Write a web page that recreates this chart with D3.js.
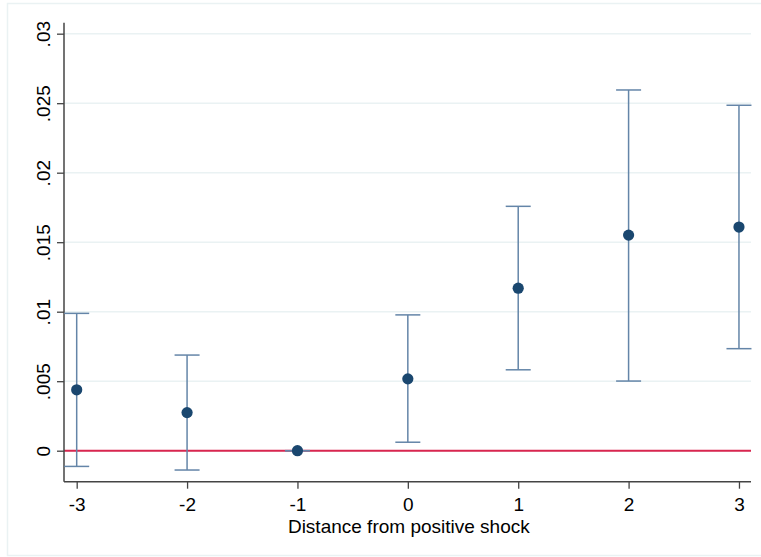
<!DOCTYPE html>
<html>
<head>
<meta charset="utf-8">
<script src="https://cdn.jsdelivr.net/npm/d3@7"></script>
<style>
  html, body { margin: 0; padding: 0; background: #fff; }
  svg { display: block; font-family: "Liberation Sans", Arial, sans-serif; }
</style>
</head>
<body>
<svg id="chart" width="761" height="557"></svg>
<script>
// ---- data ----
const distances = [-3, -2, -1, 0, 1, 2, 3];
const estimates = [0.00438, 0.00274, 0.0, 0.00517, 0.01169, 0.01551, 0.01609];
const ciLower   = [-0.00113, -0.00139, 0.0, 0.00061, 0.00582, 0.00501, 0.00734];
const ciUpper   = [0.00988, 0.00688, 0.0, 0.00977, 0.01758, 0.02595, 0.02485];
const yTickValues = [0, 0.005, 0.01, 0.015, 0.02, 0.025, 0.03];
const yTickLabels = ["0", ".005", ".01", ".015", ".02", ".025", ".03"];
const xTickValues = [-3, -2, -1, 0, 1, 2, 3];
const xTitle = "Distance from positive shock";

const svg = d3.select("#chart");

// outer frame
svg.append("rect")
  .attr("x", 7.5).attr("y", 3.5).attr("width", 770).attr("height", 552)
  .attr("fill", "#fff").attr("stroke", "#eaf2f3").attr("stroke-width", 1.5);

const pLeft = 64, pRight = 751, pTop = 22.7, pBottom = 481.7;
const x = d3.scaleLinear().domain([-3.115, 3.109]).range([pLeft, pRight]);
const y = d3.scaleLinear().domain([-0.00223, 0.03079]).range([pBottom, pTop]);

// grid lines
svg.append("g").selectAll("line").data(yTickValues).join("line")
  .attr("x1", pLeft).attr("x2", pRight)
  .attr("y1", d => y(d)).attr("y2", d => y(d))
  .attr("stroke", "#eaf2f3").attr("stroke-width", 1.5);

// zero reference line
svg.append("line")
  .attr("x1", pLeft).attr("x2", pRight)
  .attr("y1", y(0)).attr("y2", y(0))
  .attr("stroke", "#d9264f").attr("stroke-width", 2);

// y axis
const yAxis = d3.axisLeft(y).tickValues(yTickValues)
  .tickFormat((d, i) => yTickLabels[i]).tickSize(7).tickSizeOuter(0);
const gy = svg.append("g").attr("transform", `translate(${pLeft},0)`).call(yAxis);
gy.select(".domain").attr("stroke", "#444").attr("stroke-width", 1.5)
  .attr("d", `M0,${pTop}V${pBottom}`);
gy.selectAll(".tick line").attr("stroke", "#444").attr("stroke-width", 1.3);
gy.selectAll(".tick text")
  .attr("x", null).attr("dy", null)
  .attr("transform", "translate(-14,0) rotate(-90)")
  .attr("text-anchor", "middle")
  .attr("font-size", 19).attr("fill", "#000")
  .attr("font-family", "'Liberation Sans', Arial, sans-serif");

// x axis
const xAxis = d3.axisBottom(x).tickValues(xTickValues)
  .tickFormat(d3.format("d")).tickSize(7).tickSizeOuter(0);
const gx = svg.append("g").attr("transform", `translate(0,${pBottom})`).call(xAxis);
gx.select(".domain").attr("stroke", "#444").attr("stroke-width", 1.5)
  .attr("d", `M${pLeft},0H${pRight}`);
gx.selectAll(".tick line").attr("stroke", "#444").attr("stroke-width", 1.3);
gx.selectAll(".tick text")
  .attr("y", 16).attr("dy", "0.71em")
  .attr("font-size", 19).attr("fill", "#000")
  .attr("font-family", "'Liberation Sans', Arial, sans-serif")
  .text(d => d < 0 ? "-" + Math.abs(d) : String(d));

// x title
svg.append("text")
  .attr("x", (x(-3) + x(3)) / 2 + 1).attr("y", 533)
  .attr("text-anchor", "middle")
  .attr("font-size", 19).attr("fill", "#000")
  .text(xTitle);

// error bars
const rows = distances.map((d, i) => ({ d, est: estimates[i], lo: ciLower[i], hi: ciUpper[i] }));
const capHalf = 12.5;
const eb = svg.append("g").attr("stroke", "#6485a8").attr("stroke-width", 1.5).attr("fill", "none");
eb.selectAll("line.stem").data(rows).join("line").attr("class", "stem")
  .attr("x1", r => x(r.d)).attr("x2", r => x(r.d))
  .attr("y1", r => y(r.lo)).attr("y2", r => y(r.hi));
eb.selectAll("line.caplo").data(rows).join("line").attr("class", "caplo")
  .attr("x1", r => x(r.d) - capHalf).attr("x2", r => x(r.d) + capHalf)
  .attr("y1", r => y(r.lo)).attr("y2", r => y(r.lo));
eb.selectAll("line.caphi").data(rows).join("line").attr("class", "caphi")
  .attr("x1", r => x(r.d) - capHalf).attr("x2", r => x(r.d) + capHalf)
  .attr("y1", r => y(r.hi)).attr("y2", r => y(r.hi));

// points
svg.append("g").selectAll("circle").data(rows).join("circle")
  .attr("cx", r => x(r.d)).attr("cy", r => y(r.est)).attr("r", 5.6)
  .attr("fill", "#1a476f");
</script>
</body>
</html>
